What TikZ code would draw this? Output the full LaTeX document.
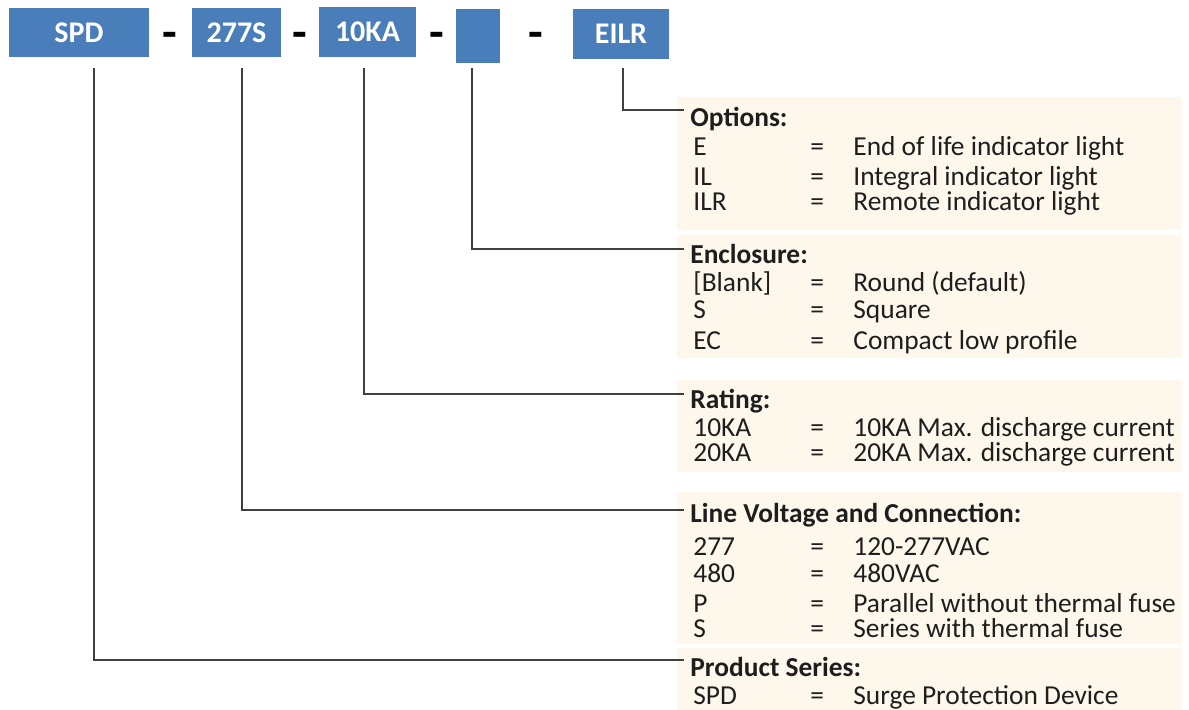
\documentclass[tikz,border=0pt]{standalone}
\usepackage{fontspec}
\setmainfont{Carlito}
\usetikzlibrary{positioning}
\definecolor{CodeBlue}{HTML}{4A7EBB}
\definecolor{LeaderGray}{HTML}{404040}
\definecolor{PanelCream}{HTML}{FDF8EB}
\definecolor{TextDark}{HTML}{1E1E1E}

\begin{document}
\begin{tikzpicture}[x=0.5pt,y=-0.5pt,
  codebox/.style={rectangle,fill=CodeBlue,text=white,font=\fontsize{15}{17}\selectfont\bfseries,minimum height=24.5pt,inner sep=0pt},
  hyph/.style={anchor=base,inner sep=0pt,font=\fontsize{24}{24}\selectfont\bfseries},
  grouptitle/.style={anchor=west,yshift=-2pt,inner xsep=3pt,inner ysep=0pt,text height=1.4ex,text depth=.2ex,font=\fontsize{13.7}{16}\selectfont\bfseries,text=TextDark},
  entry/.style={anchor=west,yshift=-2pt,inner sep=0pt,text height=1.4ex,text depth=.2ex,font=\fontsize{13.7}{16}\selectfont,text=TextDark},
  leader/.style={draw=LeaderGray,line width=1pt}
]
\useasboundingbox (0,0) rectangle (1189,710);

% cream bands behind the tables
\fill[PanelCream] (677,97) rectangle (1181,230);
\fill[PanelCream] (677,235) rectangle (1181,358);
\fill[PanelCream] (677,380) rectangle (1181,472);
\fill[PanelCream] (677,492) rectangle (1181,644);
\fill[PanelCream] (677,648) rectangle (1181,710);

% part number
\node[codebox,minimum width=70pt] (spd) at (79,32.5) {SPD};
\node[codebox,minimum width=44.5pt] (volt) at (236.5,32.5) {277S};
\node[codebox,minimum width=48.5pt,minimum height=25pt] (rate) at (367.5,32) {10KA};
\node[codebox,minimum width=22pt,minimum height=27pt] (encl) at (478,36) {};
\node[codebox,minimum width=48pt,minimum height=25pt] (opts) at (621,34) {EILR};
\node[hyph] (h1) at (170,49) {-};
\node[hyph] (h2) at (300,49) {-};
\node[hyph] (h3) at (437,49) {-};
\node[hyph] (h4) at (536,49) {-};

% group titles
\node[grouptitle] (optstitle) at (684,117) {Options:};
\node[grouptitle] (encltitle) at (684,253.5) {Enclosure:};
\node[grouptitle] (ratetitle) at (684,398.5) {Rating:};
\node[grouptitle] (volttitle) at (684,512.5) {Line Voltage and Connection:};
\node[grouptitle] (spdtitle) at (684,667) {Product Series:};

% table rows
\foreach \y/\code/\desc [count=\i] in {145.5/E/End of life indicator light,175.5/IL/Integral indicator light,201/ILR/Remote indicator light}{
  \node[entry] (optc\i) at (693,\y) {\code};
  \node[entry] (opte\i) at (810,\y) {=};
  \node[entry] (optd\i) at (853,\y) {\desc};
}
\foreach \y/\code/\desc [count=\i] in {282/{[Blank]}/Round (default),309/S/Square,339.5/EC/Compact low profile}{
  \node[entry] (enclc\i) at (693,\y) {\code};
  \node[entry] (encle\i) at (810,\y) {=};
  \node[entry] (encld\i) at (853,\y) {\desc};
}
\foreach \y/\code/\desc [count=\i] in {426.5/10KA/10KA Max. discharge current,452/20KA/20KA Max. discharge current}{
  \node[entry] (ratec\i) at (693,\y) {\code};
  \node[entry] (ratee\i) at (810,\y) {=};
  \node[entry] (rated\i) at (853,\y) {\desc};
}
\foreach \y/\code/\desc [count=\i] in {546/277/120-277VAC,573/480/480VAC,602.5/P/Parallel without thermal fuse,627.5/S/Series with thermal fuse}{
  \node[entry] (voltc\i) at (693,\y) {\code};
  \node[entry] (volte\i) at (810,\y) {=};
  \node[entry] (voltd\i) at (853,\y) {\desc};
}
\node[entry] (spdc1) at (693,695) {SPD};
\node[entry] (spde1) at (810,695) {=};
\node[entry] (spdd1) at (853,695) {Surge Protection Device};

% leaders
\draw[leader] ([xshift=1pt,yshift=-4.5pt]opts.south) |- ([yshift=5.5pt]optstitle.west);
\draw[leader] ([xshift=-3pt,yshift=-2.5pt]encl.south) |- ([yshift=4.25pt]encltitle.west);
\draw[leader] ([xshift=-1.75pt,yshift=-5.5pt]rate.south) |- ([yshift=4.25pt]ratetitle.west);
\draw[leader] ([xshift=2.75pt,yshift=-5.5pt]volt.south) |- ([yshift=3.25pt]volttitle.west);
\draw[leader] ([xshift=7.5pt,yshift=-5.5pt]spd.south) |- ([yshift=5.5pt]spdtitle.west);
\end{tikzpicture}
\end{document}
